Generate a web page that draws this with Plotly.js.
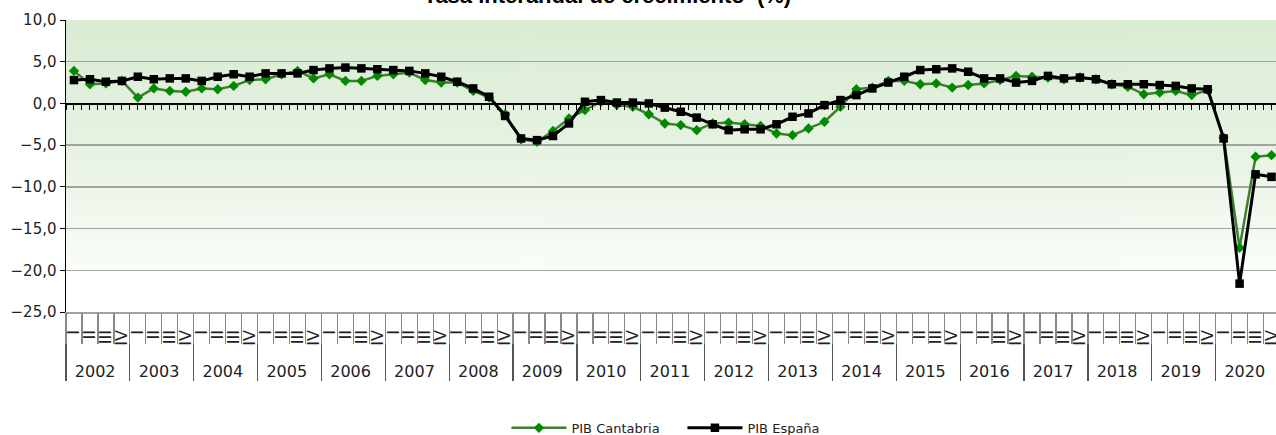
<!DOCTYPE html>
<html>
<head>
<meta charset="utf-8">
<script src="https://cdn.plot.ly/plotly-3.0.1.min.js"></script>
<style>
  html, body { margin: 0; padding: 0; background: #ffffff; overflow: hidden; }
  #chart { width: 1276px; height: 435px; }
</style>
</head>
<body>
<div id="chart"></div>
<script>
// ---- data ----
const years = ['2002','2003','2004','2005','2006','2007','2008','2009','2010','2011',
               '2012','2013','2014','2015','2016','2017','2018','2019','2020'];
const quarters = ['I','II','III','IV'];
const seriesNames = ['PIB Cantabria', 'PIB España'];

const pibCantabria = [
  3.9, 2.3, 2.4, 2.7,    // 2002
  0.7, 1.8, 1.5, 1.4,    // 2003
  1.8, 1.7, 2.1, 2.8,    // 2004
  2.9, 3.5, 3.9, 3.0,    // 2005
  3.5, 2.7, 2.7, 3.3,    // 2006
  3.5, 3.7, 2.8, 2.5,    // 2007
  2.5, 1.5, 0.7, -1.3,   // 2008
  -4.3, -4.6, -3.3, -1.8,// 2009
  -0.8, 0.2, -0.2, -0.4, // 2010
  -1.3, -2.4, -2.6, -3.2,// 2011
  -2.4, -2.3, -2.5, -2.7,// 2012
  -3.6, -3.8, -3.0, -2.2,// 2013
  -0.4, 1.7, 1.9, 2.7,   // 2014
  2.7, 2.3, 2.4, 1.9,    // 2015
  2.2, 2.4, 2.8, 3.3,    // 2016
  3.2, 3.1, 2.9, 3.1,    // 2017
  2.9, 2.3, 2.0, 1.1,    // 2018
  1.3, 1.5, 1.0, 1.6,    // 2019
  -4.1, -17.3, -6.4, -6.2 // 2020
];
const pibEspana = [
  2.8, 2.9, 2.6, 2.7,    // 2002
  3.2, 2.9, 3.0, 3.0,    // 2003
  2.7, 3.2, 3.5, 3.2,    // 2004
  3.6, 3.6, 3.6, 4.0,    // 2005
  4.2, 4.3, 4.2, 4.1,    // 2006
  4.0, 3.9, 3.6, 3.2,    // 2007
  2.6, 1.8, 0.8, -1.5,   // 2008
  -4.2, -4.4, -3.9, -2.4,// 2009
  0.2, 0.4, 0.1, 0.1,    // 2010
  0.0, -0.5, -1.0, -1.7, // 2011
  -2.5, -3.2, -3.1, -3.1,// 2012
  -2.5, -1.6, -1.2, -0.2,// 2013
  0.4, 1.0, 1.8, 2.5,    // 2014
  3.2, 4.0, 4.1, 4.2,    // 2015
  3.8, 3.0, 3.0, 2.5,    // 2016
  2.7, 3.3, 3.0, 3.1,    // 2017
  2.9, 2.3, 2.3, 2.3,    // 2018
  2.2, 2.1, 1.8, 1.7,    // 2019
  -4.2, -21.6, -8.5, -8.8 // 2020
];
const yTicks = [-25, -20, -15, -10, -5, 0, 5, 10];

// ---- build multicategory x from years x quarters ----
// (two trailing no-break spaces keep the rotated quarter labels a little below the axis line)
const xYears = [], xQuarters = [];
years.forEach(y => quarters.forEach(q => { xYears.push(y); xQuarters.push(q + '\u00a0\u00a0'); }));
const xCat = [xYears, xQuarters];
const nCat = xYears.length;

// ---- gradient background image (canvas) ----
function gradientURL() {
  const c = document.createElement('canvas');
  c.width = 4; c.height = 350;
  const g = c.getContext('2d');
  const grd = g.createLinearGradient(0, 0, 0, 350);
  grd.addColorStop(0, 'rgb(217,236,211)');
  grd.addColorStop(0.5, 'rgb(233,244,229)');
  grd.addColorStop(0.855, 'rgb(250,253,249)');
  grd.addColorStop(0.86, 'rgb(255,255,255)');
  grd.addColorStop(1, 'rgb(255,255,255)');
  g.fillStyle = grd;
  g.fillRect(0, 0, 4, 350);
  return c.toDataURL('image/png');
}

const FONT = 'DejaVu Sans, sans-serif';
const xRange = [-0.5, nCat - 0.72];

const traces = [
  {
    type: 'scatter', mode: 'lines+markers', name: seriesNames[0],
    x: xCat, y: pibCantabria,
    line: { color: '#3f7f2e', width: 2.5 },
    marker: { symbol: 'diamond', size: 8, color: '#008a00', line: { width: 0 } }
  },
  {
    type: 'scatter', mode: 'lines+markers', name: seriesNames[1],
    x: xCat, y: pibEspana,
    line: { color: '#000000', width: 3 },
    marker: { symbol: 'square', size: 8.5, color: '#000000', line: { width: 0 } }
  },
  // empty helper traces so the overlay axes (zero line ticks, quarter boundary ticks) are drawn
  { type: 'scatter', x: [], y: [], xaxis: 'x2', showlegend: false, hoverinfo: 'skip' },
  { type: 'scatter', x: [], y: [], xaxis: 'x3', showlegend: false, hoverinfo: 'skip' }
];

const layout = {
  width: 1276, height: 435,
  margin: { l: 66, r: 0, t: 20, b: 123, pad: 0, autoexpand: false },
  paper_bgcolor: '#ffffff',
  plot_bgcolor: 'rgba(0,0,0,0)',
  font: { family: FONT, size: 15, color: '#222222' },
  separators: ',.',
  title: {
    text: '<b>Tasa interanual de crecimiento\u00a0\u00a0(%)</b>',
    font: { family: 'Liberation Sans, Arial, sans-serif', size: 22, color: '#000000' },
    xref: 'container', x: 0.476, xanchor: 'center',
    yref: 'paper', y: 1, yanchor: 'bottom', pad: { b: 17 },
    automargin: false
  },
  showlegend: true,
  legend: {
    orientation: 'h', x: 0.364, xanchor: 'left', y: -0.397, yanchor: 'middle',
    font: { family: FONT, size: 13, color: '#222222' },
    itemwidth: 55, entrywidth: 106, entrywidthmode: 'pixels', tracegroupgap: 0
  },
  images: [{
    source: gradientURL(), xref: 'paper', yref: 'paper',
    x: 0, y: 1, sizex: 1, sizey: 1, sizing: 'stretch', layer: 'below',
    xanchor: 'left', yanchor: 'top'
  }],
  xaxis: {
    type: 'multicategory', range: xRange, automargin: false,
    tickmode: 'linear', tick0: 0, dtick: 1,
    showgrid: false, zeroline: false,
    showline: true, linecolor: '#a0a0a0', linewidth: 1.5,
    ticks: 'outside', ticklen: 9, tickwidth: 1.2, tickcolor: '#888888',
    tickangle: -90,
    tickfont: { family: FONT, size: 16, color: '#222222' },
    showdividers: true, dividercolor: '#555555', dividerwidth: 1.2
  },
  xaxis2: {
    type: 'linear', overlaying: 'x', anchor: 'free', position: 25 / 35,
    range: xRange, showgrid: false, zeroline: false,
    showline: true, linecolor: '#000000', linewidth: 1.5,
    ticks: 'outside', ticklen: 5, tickwidth: 1, tickcolor: '#000000',
    tick0: 0, dtick: 0.5, showticklabels: false
  },
  xaxis3: {
    type: 'linear', overlaying: 'x', anchor: 'y', side: 'bottom',
    range: xRange, showgrid: false, zeroline: false, showline: false,
    ticks: 'outside', ticklen: 31, tickwidth: 1.2, tickcolor: '#888888',
    tickmode: 'linear', tick0: -0.5, dtick: 1, showticklabels: false
  },
  yaxis: {
    range: [-25, 10], tickvals: yTicks, tickformat: '.1f', automargin: false,
    showgrid: true, gridcolor: '#a3a3a3', gridwidth: 1.5,
    zeroline: false,
    showline: true, linecolor: '#000000', linewidth: 1.5,
    ticks: 'outside', ticklen: 5, tickcolor: '#000000',
    tickfont: { family: FONT, size: 15, color: '#222222' }
  }
};

Plotly.newPlot('chart', traces, layout, { displayModeBar: false, staticPlot: true });
</script>
</body>
</html>
